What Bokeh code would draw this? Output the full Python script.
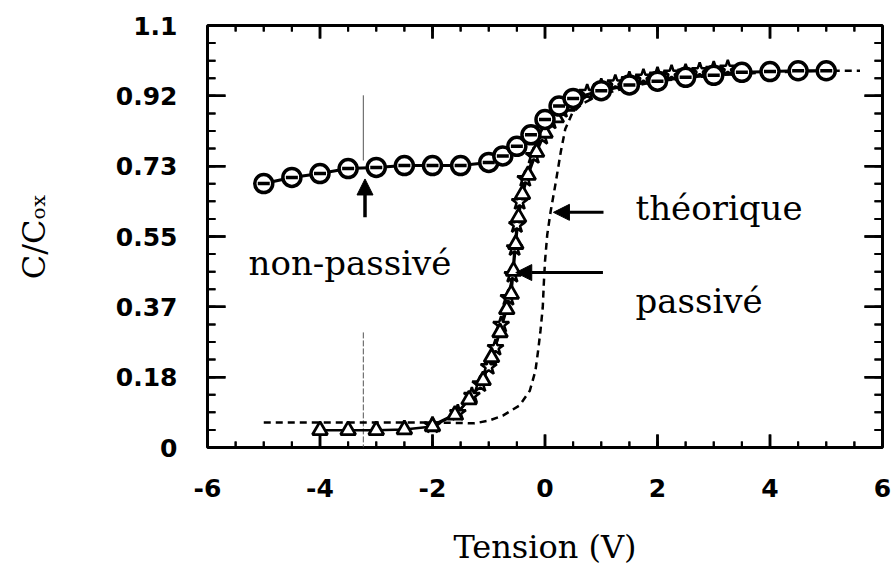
import numpy as np
from bokeh.plotting import figure
from bokeh.models import (Range1d, FixedTicker, LinearAxis, CustomJSTickFormatter,
                          Label, Arrow, NormalHead, ColumnDataSource)
from bokeh.embed import file_html
from bokeh.resources import INLINE

# ---------------- data ----------------
x_ticks = [-6.0, -4.0, -2.0, 0.0, 2.0, 4.0, 6.0]
x_tick_labels = ["-6", "-4", "-2", "0", "2", "4", "6"]
x_minor = [-6.0 + 0.5 * i for i in range(25)]
y_ticks = [0.0, 0.18333, 0.36667, 0.55, 0.73333, 0.91667, 1.1]
y_tick_labels = ["0", "0.18", "0.37", "0.55", "0.73", "0.92", "1.1"]
y_minor = [1.1 / 24 * i for i in range(25)]

# non-passivé (circles)
np_x = [-5.0, -4.5, -4.0, -3.5, -3.0, -2.5, -2.0, -1.5, -1.0, -0.75, -0.5, -0.25,
        0.0, 0.25, 0.5, 1.0, 1.5, 2.0, 2.5, 3.0, 3.5, 4.0, 4.5, 5.0]
np_y = [0.688, 0.704, 0.714, 0.727, 0.730, 0.735, 0.735, 0.735, 0.743, 0.76, 0.785, 0.815,
        0.855, 0.89, 0.91, 0.93, 0.945, 0.955, 0.965, 0.97, 0.978, 0.98, 0.982, 0.982]

# passivé, sweep 1 (triangles)
pa_x = [-4.0, -3.5, -3.0, -2.5, -2.0, -1.6, -1.35, -1.1, -0.95, -0.8, -0.68, -0.6,
        -0.56, -0.52, -0.47, -0.4, -0.3, -0.15, 0.0, 0.2, 0.4]
pa_y = [0.045, 0.045, 0.045, 0.047, 0.055, 0.085, 0.125, 0.175, 0.235, 0.30, 0.36, 0.40,
        0.46, 0.53, 0.60, 0.66, 0.71, 0.77, 0.82, 0.86, 0.89]

# passivé, sweep 2 (stars)
pb_x = [-2.0, -1.55, -1.3, -1.15, -1.0, -0.88, -0.78, -0.65, -0.58, -0.54, -0.5, -0.45,
        -0.35, -0.2, -0.05, 0.1, 0.3, 0.5, 0.75, 1.0, 1.25, 1.5, 1.75, 2.0, 2.25, 2.5,
        2.75, 3.0, 3.25]
pb_y = [0.058, 0.09, 0.135, 0.165, 0.21, 0.26, 0.32, 0.39, 0.45, 0.52, 0.58, 0.64,
        0.70, 0.76, 0.81, 0.85, 0.88, 0.905, 0.925, 0.94, 0.95, 0.958, 0.965, 0.97,
        0.975, 0.978, 0.982, 0.985, 0.988]

# théorique (dashed)
th_x = [-5.0, -4.0, -3.0, -2.0, -1.5, -1.25, -1.0, -0.75, -0.45, -0.27, -0.17, -0.12,
        -0.08, -0.04, -0.02, 0.0, 0.04, 0.1, 0.19, 0.28, 0.36, 0.48, 0.65, 0.85, 1.0,
        1.5, 2.0, 3.0, 4.0, 5.0, 5.6]
th_y = [0.065, 0.065, 0.065, 0.065, 0.064, 0.063, 0.07, 0.083, 0.11, 0.148, 0.2, 0.255,
        0.305, 0.365, 0.43, 0.485, 0.555, 0.615, 0.69, 0.77, 0.83, 0.87, 0.895, 0.91,
        0.92, 0.94, 0.955, 0.97, 0.978, 0.982, 0.982]

# ---------------- figure ----------------
X0, X1, Y0, Y1 = -6.0, 6.0, 0.0, 1.1
W, H = 891, 571
ML, MR, MT, MB = 207, 9, 25, 124
p = figure(width=W, height=H, output_backend="svg", toolbar_location=None,
           x_range=Range1d(X0, X1), y_range=Range1d(Y0, Y1),
           min_border_left=ML, min_border_right=MR, min_border_top=MT,
           min_border_bottom=MB, x_axis_location=None, y_axis_location=None)
p.background_fill_color = "white"
p.border_fill_color = "white"
p.grid.visible = False
p.outline_line_color = "black"
p.outline_line_width = 3

# pixel -> data conversion (for tick lengths / dash length)
px_x = (X1 - X0) / (W - ML - MR)
px_y = (Y1 - Y0) / (H - MT - MB)

serif = "DejaVu Serif"
tick_font = "DejaVu Sans"

fmt_code = """
let b = 0;
for (let i = 0; i < tvals.length; i++) { if (Math.abs(tvals[i]-tick) < Math.abs(tvals[b]-tick)) b = i; }
return labs[b];
"""
xfmt = CustomJSTickFormatter(args=dict(tvals=x_ticks, labs=x_tick_labels), code=fmt_code)
yfmt = CustomJSTickFormatter(args=dict(tvals=y_ticks, labs=y_tick_labels), code=fmt_code)


def label_axis(ax, fmt, ticks, standoff):
    ax.ticker = FixedTicker(ticks=ticks)
    ax.formatter = fmt
    ax.axis_line_color = None
    ax.major_tick_line_color = None
    ax.minor_tick_line_color = None
    ax.major_tick_in = 0
    ax.major_tick_out = 0
    ax.minor_tick_in = 0
    ax.minor_tick_out = 0
    ax.major_label_standoff = standoff
    ax.major_label_text_font = tick_font
    ax.major_label_text_font_style = "bold"
    ax.major_label_text_font_size = "25px"
    ax.major_label_text_color = "black"


xb = LinearAxis(axis_label="Tension (V)")
label_axis(xb, xfmt, x_ticks, 31)
xb.axis_label_text_font = serif
xb.axis_label_text_font_style = "normal"
xb.axis_label_text_font_size = "32px"
xb.axis_label_standoff = 28
xb.axis_label_text_color = "black"
p.add_layout(xb, "below")

yl = LinearAxis(axis_label="C/Cₒₓ")
label_axis(yl, yfmt, y_ticks, 30)
yl.axis_label_text_font = serif
yl.axis_label_text_font_style = "normal"
yl.axis_label_text_font_size = "32px"
yl.axis_label_standoff = 60
yl.axis_label_text_color = "black"
p.add_layout(yl, "left")

# inward ticks on all four sides of the frame, as head-less Arrow annotations
tick_sets = []
for side in ("bottom", "top"):
    tick_sets.append((x_ticks, 13.0, 2.5, side))
    tick_sets.append((x_minor, 6.0, 2.0, side))
for side in ("left", "right"):
    tick_sets.append((y_ticks, 18.0, 2.5, side))
    tick_sets.append((y_minor, 8.0, 2.0, side))

for pos, ln, lw, side in tick_sets:
    pos = np.asarray(pos, dtype=float)
    n = len(pos)
    if side == "bottom":
        d = dict(x0=pos, y0=np.full(n, Y0), x1=pos, y1=np.full(n, Y0 + ln * px_y))
    elif side == "top":
        d = dict(x0=pos, y0=np.full(n, Y1), x1=pos, y1=np.full(n, Y1 - ln * px_y))
    elif side == "left":
        d = dict(x0=np.full(n, X0), y0=pos, x1=np.full(n, X0 + ln * px_x), y1=pos)
    else:
        d = dict(x0=np.full(n, X1), y0=pos, x1=np.full(n, X1 - ln * px_x), y1=pos)
    src = ColumnDataSource(d)
    p.add_layout(Arrow(source=src, x_start="x0", y_start="y0", x_end="x1", y_end="y1",
                       start=None, end=None, line_color="black", line_width=lw))
    p.segment(x0="x0", y0="y0", x1="x1", y1="y1", source=src, line_color="black",
              line_width=lw)

# scan crease (thin line)
p.line([-3.23, -3.23], [0.918, 0.748], line_color="#555555", line_width=1)
p.line([-3.23, -3.23], [0.30, 0.0], line_color="#555555", line_width=1, line_dash="6 2")

# theoretical curve
p.line(th_x, th_y, line_color="black", line_width=2.5, line_dash="7 5")

# passivé curves
p.line(pa_x, pa_y, line_color="black", line_width=2.5)
p.line(pb_x, pb_y, line_color="black", line_width=2.5)
p.scatter(pb_x, pb_y, marker="star", size=17, fill_color="white", line_color="black",
          line_width=2.5)
p.scatter(pa_x, pa_y, marker="triangle", size=15, fill_color="white", line_color="black",
          line_width=2.8)

# non-passivé curve
p.line(np_x, np_y, line_color="black", line_width=3)
p.scatter(np_x, np_y, marker="circle", size=18, fill_color="white", line_color="black",
          line_width=3.5)
dash_half = 6 * px_x
dx, dy = [], []
for xv, yv in zip(np_x, np_y):
    dx += [xv - dash_half, xv + dash_half, np.nan]
    dy += [yv, yv, np.nan]
p.line(dx, dy, line_color="black", line_width=3.5)

# annotations
head = dict(size=16, fill_color="black", line_color="black")
p.add_layout(Arrow(end=NormalHead(**head), x_start=-3.2, y_start=0.60, x_end=-3.2,
                   y_end=0.70, line_width=3.5, line_color="black"))
p.add_layout(Arrow(end=NormalHead(**head), x_start=1.04, y_start=0.613, x_end=0.15,
                   y_end=0.613, line_width=3, line_color="black"))
p.add_layout(Arrow(end=NormalHead(**head), x_start=1.03, y_start=0.456, x_end=-0.52,
                   y_end=0.456, line_width=3, line_color="black"))

txt = dict(text_font=serif, text_font_size="34px", text_color="black",
           text_baseline="alphabetic", text_align="left")
p.add_layout(Label(x=-5.27, y=0.48, text="non-passivé", **txt))
p.add_layout(Label(x=1.61, y=0.623, text="théorique", **txt))
p.add_layout(Label(x=1.61, y=0.383, text="passivé", **txt))

open("out.html", "w").write(file_html(p, INLINE))
